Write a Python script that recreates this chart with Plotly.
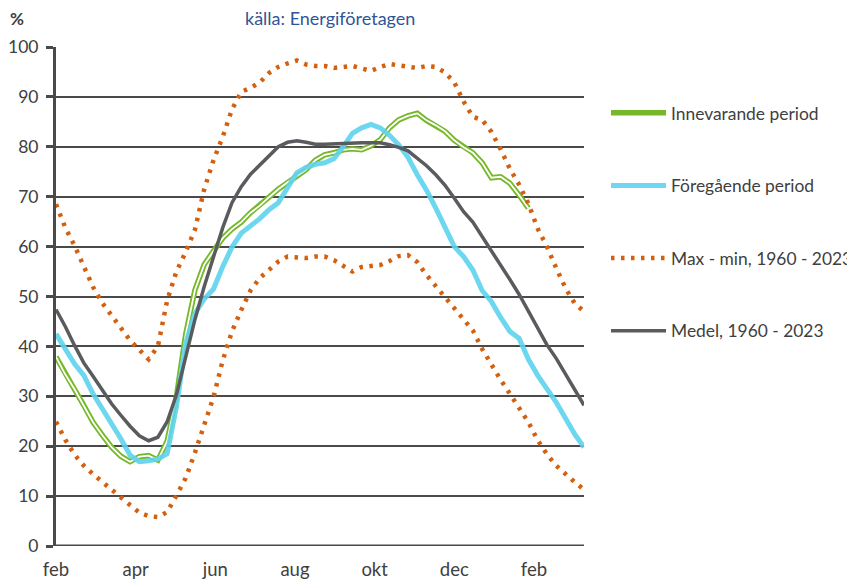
import plotly.graph_objects as go

# ---- data (weekly values, % fill level) ----
weeks = list(range(58))

innevarande = [37.9, 34.4, 31.4, 28.2, 24.8, 22.2, 19.8, 18.0, 16.9, 17.9,
               18.1, 17.2, 21.0, 29.9, 42.4, 51.3, 56.4, 59.1, 61.7, 63.5,
               64.9, 66.8, 68.2, 69.9, 71.5, 72.9, 74.1, 75.4, 77.3, 78.4,
               78.8, 79.4, 79.6, 79.4, 80.2, 81.4, 83.8, 85.4, 86.2, 86.7,
               85.3, 84.3, 83.1, 81.3, 79.9, 78.8, 76.8, 73.8, 74.0, 72.7,
               70.3, 67.7]

foregaende = [42.5, 39.7, 36.5, 34.2, 30.5, 27.5, 24.6, 21.5, 18.2, 16.9,
              17.1, 17.4, 18.5, 27.9, 40.6, 46.6, 49.5, 51.5, 56.0, 59.9,
              62.7, 64.0, 65.6, 67.4, 68.8, 71.8, 74.8, 75.9, 76.5, 76.8,
              77.6, 80.0, 82.7, 83.8, 84.5, 83.8, 82.3, 80.4, 77.9, 74.4,
              71.3, 67.7, 63.8, 60.0, 58.0, 55.3, 51.2, 49.0, 45.8, 43.0,
              41.6, 37.4, 34.2, 31.5, 28.8, 25.6, 22.4, 19.8]

max_serie = [68.5, 63.8, 60.2, 56.0, 51.9, 48.7, 46.2, 43.6, 41.2, 39.3,
             37.4, 40.0, 49.2, 55.0, 58.9, 63.4, 71.5, 77.3, 82.0, 87.5,
             91.0, 91.8, 92.9, 94.8, 96.0, 96.7, 97.3, 96.5, 96.2, 96.2,
             95.8, 96.0, 96.2, 95.7, 95.2, 96.0, 96.6, 96.3, 96.1, 95.8,
             96.2, 96.0, 94.9, 92.9, 89.1, 86.0, 85.4, 83.0, 79.5, 75.6,
             72.4, 68.6, 63.6, 60.0, 55.7, 51.7, 48.6, 47.0]

min_serie = [24.9, 21.3, 18.3, 16.1, 14.4, 12.8, 11.2, 9.7, 8.2, 6.7,
             6.0, 5.8, 6.8, 10.1, 13.6, 18.7, 24.0, 29.8, 37.2, 43.0,
             47.3, 51.2, 53.7, 55.3, 57.0, 58.0, 57.9, 57.7, 58.0, 58.0,
             57.3, 56.1, 55.0, 55.9, 56.1, 56.3, 57.1, 58.1, 58.3, 56.9,
             54.3, 52.1, 49.7, 47.4, 45.4, 43.2, 39.5, 36.2, 33.3, 30.5,
             27.7, 24.8, 21.2, 18.4, 16.1, 14.3, 12.8, 11.3]

medel = [47.4, 44.0, 40.2, 36.7, 34.0, 31.2, 28.5, 26.2, 24.0, 22.1,
         21.1, 21.8, 24.9, 30.3, 37.9, 45.4, 52.0, 57.7, 63.8, 68.8,
         72.0, 74.5, 76.4, 78.3, 80.0, 80.9, 81.2, 80.9, 80.5, 80.5,
         80.6, 80.7, 80.8, 80.8, 80.8, 80.8, 80.4, 79.9, 79.2, 77.8,
         76.2, 74.4, 72.3, 69.7, 67.0, 64.9, 62.1, 59.3, 56.5, 53.4,
         50.4, 47.1, 43.8, 40.3, 37.6, 34.4, 31.2, 28.2]

tick_weeks = [0, 8.6, 17.2, 25.8, 34.4, 43.0, 51.6]
tick_labels = ["feb", "apr", "jun", "aug", "okt", "dec", "feb"]
y_ticks = list(range(0, 101, 10))

GREEN = "#77b82a"
BLUE = "#5fd3ef"
ORANGE = "#d4600f"
GREY = "#595b5e"
AXIS = "#4a4a4a"
TXT = "#404040"
FONT = "Lato"
FS = 17.5

# page body has an 8px margin; figure is sized to fill the rest of the window
OFF = 8
W, H = 855 - OFF, 582 - OFF
ML, MT, MB = 56 - OFF, 47 - OFF, 582 - 546
MR = 855 - 584
PW, PH = W - ML - MR, H - MT - MB

def px(xp):
    return (xp - OFF - ML) / PW

def py(yp):
    return (H - MB - (yp - OFF)) / PH

fig = go.Figure()

fig.add_trace(go.Scatter(x=weeks[:len(innevarande)], y=innevarande, mode="lines",
                         name="Innevarande period",
                         line=dict(color=GREEN, width=5.5), legendgroup="g1"))
fig.add_trace(go.Scatter(x=weeks[:len(innevarande)], y=innevarande, mode="lines",
                         showlegend=False, hoverinfo="skip",
                         line=dict(color="white", width=1.8), legendgroup="g1"))
fig.add_trace(go.Scatter(x=weeks, y=foregaende, mode="lines",
                         name="Föregående period", opacity=0.9,
                         line=dict(color=BLUE, width=5), legendgroup="g2"))
fig.add_trace(go.Scatter(x=weeks, y=max_serie, mode="lines",
                         name="Max - min, 1960 - 2023",
                         line=dict(color=ORANGE, width=4.5, dash="3.5px,6.5px"),
                         legendgroup="g3"))
fig.add_trace(go.Scatter(x=weeks, y=min_serie, mode="lines",
                         showlegend=False,
                         line=dict(color=ORANGE, width=4.5, dash="3.5px,6.5px"),
                         legendgroup="g3"))
fig.add_trace(go.Scatter(x=weeks, y=medel, mode="lines",
                         name="Medel, 1960 - 2023",
                         line=dict(color=GREY, width=3.5), legendgroup="g4"))

fig.update_layout(
    width=W, height=H,
    margin=dict(l=ML, r=MR, t=MT, b=MB, autoexpand=False),
    paper_bgcolor="white", plot_bgcolor="white",
    font=dict(family=FONT, size=FS, color=TXT),
    showlegend=True,
    legend=dict(x=px(606), xanchor="left", y=py(95), yanchor="top",
                font=dict(family=FONT, size=17.4, color=TXT),
                tracegroupgap=47, itemwidth=55, bgcolor="rgba(0,0,0,0)"),
    xaxis=dict(range=[0, 57], tickmode="array", tickvals=tick_weeks,
               ticktext=tick_labels, showgrid=False, zeroline=False,
               showline=False, ticks="", ticklabelstandoff=10,
               tickfont=dict(family=FONT, size=18.5, color=TXT)),
    yaxis=dict(range=[0, 100], tickmode="array", tickvals=y_ticks,
               showgrid=True, gridcolor=AXIS, gridwidth=1.6,
               zeroline=False, showline=True, linecolor=AXIS,
               linewidth=3, ticks="outside", ticklen=7, tickwidth=3,
               tickcolor=AXIS, ticklabelstandoff=4,
               tickfont=dict(family=FONT, size=FS, color=TXT)),
    annotations=[
        dict(text="<b>%</b>", x=px(8), y=py(18), xref="paper", yref="paper",
             xanchor="left", yanchor="middle", showarrow=False,
             font=dict(family=FONT, size=17, color=TXT)),
        dict(text="källa: Energiföretagen", x=px(330), y=py(18), xref="paper",
             yref="paper", xanchor="center", yanchor="middle", showarrow=False,
             font=dict(family=FONT, size=18, color="#2f5597")),
    ],
)
# thick baseline at 0
fig.add_hline(y=0, line=dict(color=AXIS, width=3))

fig.write_html("out.html")
